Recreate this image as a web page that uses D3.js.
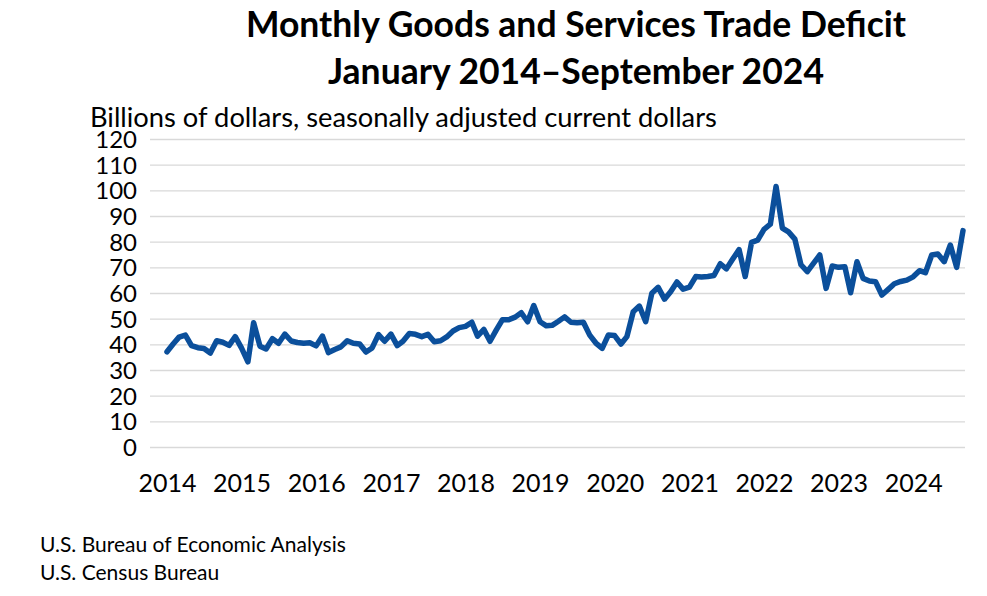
<!DOCTYPE html>
<html>
<head>
<meta charset="utf-8">
<script src="https://cdn.jsdelivr.net/npm/d3@7"></script>
<style>
	body { margin: 0; background: white; }
	#content { width: 987px; height: 596px; }
	text { font-family: Lato, "Open Sans", sans-serif; fill: black; }
</style>
</head>
<body>
<div id="content"></div>
<script>

// Monthly trade deficit, billions of dollars
var deficit2014 = [37.1, 40.2, 42.8, 43.6, 39.5, 38.7, 38.4, 36.6, 41.4, 40.8, 39.6, 43.0];
var deficit2015 = [38.5, 33.2, 48.4, 39.3, 38.2, 42.2, 40.4, 44.0, 41.3, 40.7, 40.4, 40.6];
var deficit2016 = [39.4, 43.2, 36.8, 38.0, 39.0, 41.4, 40.4, 40.1, 37.0, 38.6, 43.8, 41.2];
var deficit2017 = [44.0, 39.5, 41.2, 44.2, 43.9, 43.0, 43.9, 41.0, 41.4, 42.9, 45.2, 46.5];
var deficit2018 = [47.0, 48.6, 43.2, 45.8, 41.2, 45.6, 49.6, 49.6, 50.6, 52.3, 48.8, 55.1];
var deficit2019 = [48.8, 47.2, 47.4, 49.0, 50.7, 48.6, 48.4, 48.6, 43.6, 40.5, 38.4, 43.6];
var deficit2020 = [43.4, 40.1, 43.0, 52.7, 54.9, 48.8, 59.9, 62.2, 57.6, 60.5, 64.3, 61.5];
var deficit2021 = [62.3, 66.4, 66.2, 66.4, 66.8, 71.4, 69.4, 73.2, 76.9, 66.4, 79.7, 80.6];
var deficit2022 = [84.8, 86.8, 101.5, 85.3, 83.8, 81.0, 71.0, 68.3, 71.6, 74.8, 61.8, 70.5];
var deficit2023 = [70.0, 70.2, 60.1, 72.2, 65.7, 64.7, 64.4, 59.2, 61.4, 63.6, 64.5, 65.0];
var deficit2024 = [66.3, 68.7, 67.9, 74.8, 75.2, 72.2, 78.7, 70.0, 84.3];

var years = [2014, 2015, 2016, 2017, 2018, 2019, 2020, 2021, 2022, 2023, 2024];
var yTicks = [0, 10, 20, 30, 40, 50, 60, 70, 80, 90, 100, 110, 120];

var titleLines = ["Monthly Goods and Services Trade Deficit", "January 2014\u2013September 2024"];
var axisTitle = "Billions of dollars, seasonally adjusted current dollars";
var sources = ["U.S. Bureau of Economic Analysis", "U.S. Census Bureau"];

function main() {
	var { svg, width, height } = initSVG();

	var deficit = [].concat(deficit2014, deficit2015, deficit2016, deficit2017, deficit2018,
		deficit2019, deficit2020, deficit2021, deficit2022, deficit2023, deficit2024);

	// one point per month, starting January 2014
	var monthly = deficit.map(function (v, i) {
		return { date: new Date(2014, i, 1), value: v };
	});

	drawTitles(svg);
	drawChart(svg, monthly);
}

function drawTitles(svg) {
	svg.selectAll(".title")
		.data(titleLines)
		.enter()
		.append("text")
		.attr("class", "title")
		.attr("x", 576)
		.attr("y", function (d, i) { return 37 + i * 47; })
		.attr("text-anchor", "middle")
		.style("font-size", "35.5px")
		.style("font-weight", "bold")
		.text(function (d) { return d; });

	svg.append("text")
		.attr("x", 90)
		.attr("y", 127)
		.style("font-size", "27.3px")
		.text(axisTitle);

	svg.selectAll(".source")
		.data(sources)
		.enter()
		.append("text")
		.attr("class", "source")
		.attr("x", 40)
		.attr("y", function (d, i) { return 552 + i * 28; })
		.style("font-size", "21px")
		.text(function (d) { return d; });
}

function drawChart(svg, monthly) {
	var plot = { left: 150, right: 965, top: 139, bottom: 447 };

	var x = d3.scaleTime()
		.domain([new Date(2014, 0, 1), new Date(2024, 8, 1)])
		.range([167, 963]);

	var y = d3.scaleLinear()
		.domain([0, 120])
		.range([plot.bottom, plot.top]);

	// y axis with gridlines
	var yAxis = svg.append("g")
		.attr("transform", "translate(" + plot.left + ",0)")
		.call(d3.axisLeft(y)
			.tickValues(yTicks)
			.tickSizeInner(-(plot.right - plot.left))
			.tickSizeOuter(0)
			.tickPadding(13));
	yAxis.select(".domain").remove();
	yAxis.selectAll(".tick line")
		.attr("stroke", "#d9d9d9")
		.attr("stroke-width", 1.3);
	yAxis.selectAll(".tick text")
		.attr("dy", "0.36em")
		.style("font-size", "24px")
		.style("font-family", "Lato, sans-serif")
		.attr("fill", "black");

	// x axis, year labels at January
	var xAxis = svg.append("g")
		.attr("transform", "translate(0," + plot.bottom + ")")
		.call(d3.axisBottom(x)
			.tickValues(years.map(function (yr) { return new Date(yr, 0, 1); }))
			.tickFormat(d3.timeFormat("%Y"))
			.tickSize(0)
			.tickPadding(27));
	xAxis.select(".domain").remove();
	xAxis.selectAll(".tick text")
		.style("font-size", "25px")
		.style("font-family", "Lato, sans-serif")
		.attr("fill", "black");

	var line = d3.line()
		.x(function (d) { return x(d.date); })
		.y(function (d) { return y(d.value); });

	svg.append("path")
		.datum(monthly)
		.attr("fill", "none")
		.attr("stroke", "#0b4f9b")
		.attr("stroke-width", 5.5)
		.attr("stroke-linejoin", "round")
		.attr("stroke-linecap", "round")
		.attr("d", line);
}

function initSVG() {
	var width = 987;
	var height = 596;

	var svg = d3.select("#content")
		.append("svg")
		.attr("width", width)
		.attr("height", height);

	return { svg, width, height };
}

(() => {
	main();
})()
</script>
</body>
</html>
